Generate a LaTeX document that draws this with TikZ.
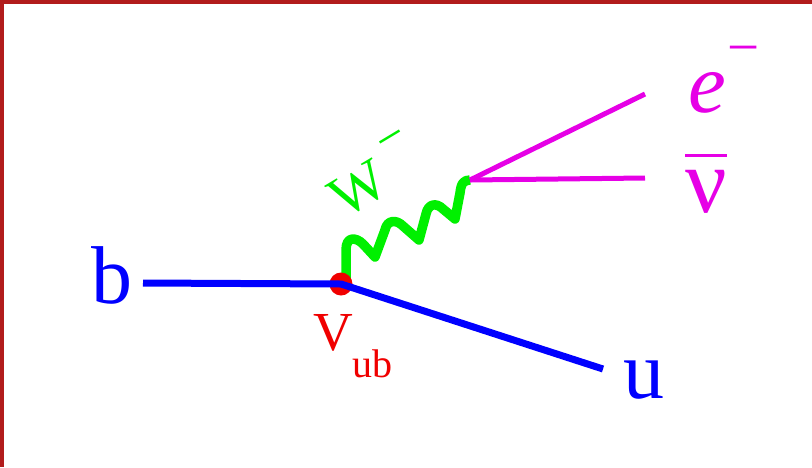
\documentclass[tikz,border=0pt]{standalone}
\usepackage{fontspec}
\setmainfont{Liberation Serif}

\definecolor{quarkblue}{RGB}{0,0,255}
\definecolor{wgreen}{RGB}{0,240,0}
\definecolor{leptonpink}{RGB}{230,0,230}
\definecolor{vertexred}{RGB}{240,0,0}
\definecolor{framered}{RGB}{178,28,28}

\begin{document}
\begin{tikzpicture}[x=1pt,y=-1pt,
  quark/.style={draw=quarkblue,line width=7pt},
  lepton/.style={draw=leptonpink,line width=5pt},
  wboson/.style={draw=wgreen,line width=9.5pt,line join=round},
  label/.style={inner sep=0pt,anchor=base}
]
\useasboundingbox (0,0) rectangle (812,467);

% frame on top and left
\fill[framered] (0,0) rectangle (812,3.5);
\fill[framered] (0,0) rectangle (3.5,467);

% vertex
\coordinate (vtx) at (341,284);
\coordinate (wstart) at (346,284);

% W boson (three humps)
\coordinate (wend) at (470,180);
\draw[wboson] (wstart) -- ++(0,-34)
  .. controls +(0,-14) and +(-7,-7) .. ++(17,-6)
  -- ++(12,13) -- ++(10,-27)
  .. controls +(2,-10) and +(-7,-7) .. ++(18,-4)
  -- ++(16,14) -- ++(7,-26)
  .. controls +(2,-10) and +(-7,-7) .. ++(17,-5)
  -- ++(12,10) -- ++(5,-26)
  .. controls +(1,-10) and +(-6,0) .. (wend);
\node[label,anchor=base west,rotate=31,text=wgreen,font=\fontsize{59}{59}\selectfont] (wlab) at (344,220)
  {W\kern12pt\raisebox{31pt}{\fontsize{50}{50}\selectfont −}};

\fill[vertexred] (vtx) circle (11.5);

% quark lines
\node[label,text=quarkblue,font=\fontsize{82}{82}\selectfont] (b) at (112,303) {b};
\node[label,text=quarkblue,font=\fontsize{82}{82}\selectfont] (u) at (644,398) {u};
\coordinate (bin) at (143,283);
\coordinate (uout) at (603,369);
\draw[quark] (bin) -- (vtx) -- (uout);

% CKM label
\node[label,anchor=base west,text=vertexred,font=\fontsize{55}{55}\selectfont] (vub) at (313,350)
  {V\raisebox{-27pt}{\fontsize{40}{40}\selectfont ub}};

% leptons
\coordinate (eout) at (645,94);
\coordinate (nuout) at (645,178);
\draw[lepton] (wend) -- (eout);
\draw[lepton] (wend) -- (nuout);
\node[label,anchor=base west,text=leptonpink,font=\fontsize{85}{85}\selectfont] (e) at (688,112)
  {\itshape e\kern2pt\raisebox{46pt}{\upshape\fontsize{57}{57}\selectfont −}};
\node[label,anchor=base west,text=leptonpink,font=\fontsize{92}{92}\selectfont] (nubar) at (685,212)
  {\rlap{\rule[55.5pt]{42pt}{3pt}}ν};
\end{tikzpicture}
\end{document}
